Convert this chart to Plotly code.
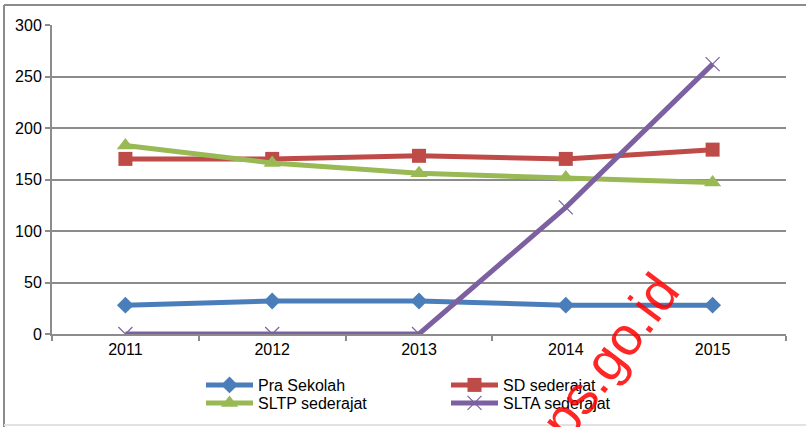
import plotly.graph_objects as go

years = ["2011", "2012", "2013", "2014", "2015"]
pra_sekolah = [28, 32, 32, 28, 28]
sd_sederajat = [170, 170, 173, 170, 179]
sltp_sederajat = [183, 166, 156, 152, 147]
slta_sederajat = [0, 0, 0, 123, 262]

series_names = ["Pra Sekolah", "SD sederajat", "SLTP sederajat", "SLTA sederajat"]
y_ticks = [0, 50, 100, 150, 200, 250, 300]

W, H = 806, 427
L, R, T, B = 52, 20, 25, 93
PW, PH = W - L - R, H - T - B


def px(x):
    return (x - L) / PW


def py(y):
    return (H - B - y) / PH


FONT = "Liberation Sans, Arial, sans-serif"
GRID = "#8c8c8c"

fig = go.Figure()
fig.add_trace(go.Scatter(
    x=years, y=pra_sekolah, name=series_names[0], mode="lines+markers",
    line=dict(color="#4a7ebb", width=5),
    marker=dict(symbol="diamond", size=13, color="#4a7ebb"), legend="legend"))
fig.add_trace(go.Scatter(
    x=years, y=sd_sederajat, name=series_names[1], mode="lines+markers",
    line=dict(color="#be4b48", width=5),
    marker=dict(symbol="square", size=14, color="#be4b48"), legend="legend2"))
fig.add_trace(go.Scatter(
    x=years, y=sltp_sederajat, name=series_names[2], mode="lines+markers",
    line=dict(color="#98b954", width=5),
    marker=dict(symbol="triangle-up", size=15, color="#98b954"), legend="legend3"))
fig.add_trace(go.Scatter(
    x=years, y=slta_sederajat, name=series_names[3], mode="lines+markers",
    line=dict(color="#7d60a0", width=5),
    marker=dict(symbol="x-thin", size=14, color="#7d60a0",
                line=dict(color="#7d60a0", width=1.2)), legend="legend4"))


def leg(x, y):
    return dict(x=x / W, y=1 - y / H, xref="container", yref="container",
                xanchor="left", yanchor="middle", bgcolor="rgba(0,0,0,0)",
                font=dict(family=FONT, size=16, color="black"),
                orientation="v", itemwidth=47)


fig.update_layout(
    width=W, height=H,
    margin=dict(l=L, r=R, t=T, b=B, autoexpand=False),
    paper_bgcolor="white", plot_bgcolor="white",
    font=dict(family=FONT, size=16, color="black"),
    showlegend=True,
    legend=leg(201, 385),
    legend2=leg(446, 385),
    legend3=leg(201, 403),
    legend4=leg(446, 403),
    xaxis=dict(
        type="category", range=[-0.5, 4.5], showgrid=False,
        showline=True, linecolor=GRID, linewidth=2,
        ticks="outside", tickson="boundaries", ticklen=5, tickcolor=GRID, tickwidth=2,
        tickfont=dict(family=FONT, size=16, color="black"), fixedrange=True),
    yaxis=dict(
        range=[0, 300], tickvals=y_ticks, showgrid=True, gridcolor=GRID, gridwidth=2,
        showline=True, linecolor=GRID, linewidth=2, zeroline=False,
        ticks="outside", ticklen=5, tickcolor=GRID, tickwidth=2,
        tickfont=dict(family=FONT, size=16, color="black"), fixedrange=True),
    shapes=[
        dict(type="line", xref="paper", yref="paper", x0=px(4), x1=px(4), y0=py(5), y1=py(430),
             line=dict(color=GRID, width=2)),
        dict(type="line", xref="paper", yref="paper", x0=px(4), x1=px(810), y0=py(5), y1=py(5),
             line=dict(color=GRID, width=2)),
        dict(type="line", xref="paper", yref="paper", x0=px(4), x1=px(810), y0=py(425), y1=py(425),
             line=dict(color="#e2e2e2", width=2)),
    ],
    annotations=[
        dict(text="bps.go.id", xref="paper", yref="paper", x=px(600), y=py(368),
             xanchor="center", yanchor="middle",
             showarrow=False, textangle=-53,
             font=dict(family=FONT, size=54, color="rgba(255,0,0,0.85)")),
    ],
)

fig.write_html("out.html", config={"displayModeBar": False},
               post_script="document.body.style.margin='0';document.body.style.overflow='hidden';")
